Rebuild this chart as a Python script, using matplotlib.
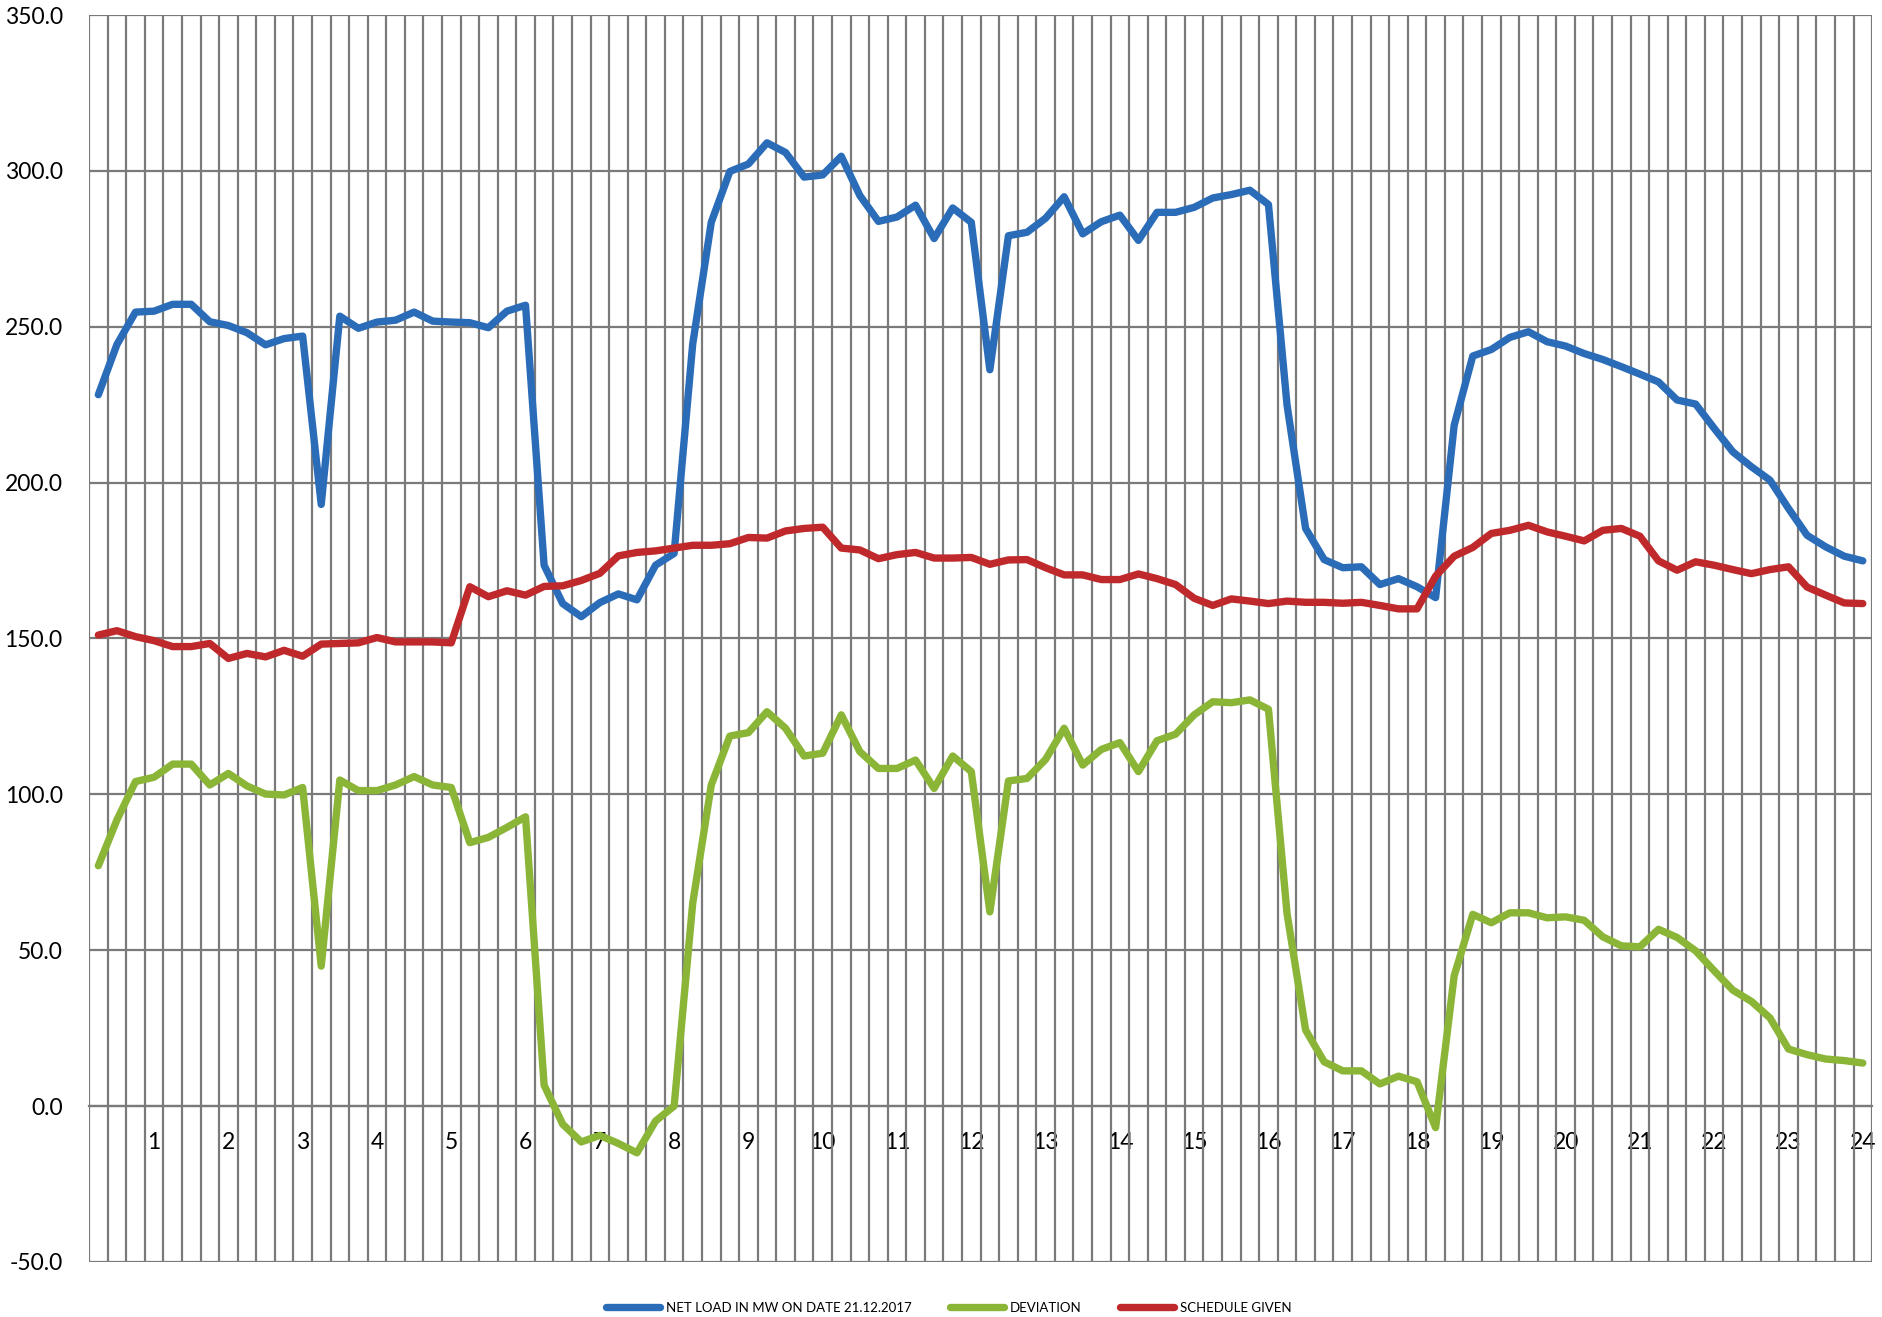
import numpy as np
import matplotlib.pyplot as plt
from matplotlib.ticker import FormatStrFormatter

# 15-minute blocks of one day (96 points), hour labels on every 4th block
hour_labels = [str(h) for h in range(1, 25)]

net_load = [
    228.2, 244.3, 254.7, 255.0, 257.2, 257.2, 251.6, 250.4, 248.1, 244.2, 246.2, 247.0,
    193.0, 253.4, 249.5, 251.5, 252.1, 254.7, 251.8, 251.5, 251.3, 249.7, 255.0, 256.9,
    173.5, 161.2, 157.0, 161.5, 164.3, 162.4, 173.5, 177.3, 244.4, 283.5, 299.8, 302.2,
    309.0, 305.9, 298.0, 298.7, 304.7, 292.1, 283.8, 285.2, 289.0, 278.3, 288.1, 283.5,
    236.2, 279.2, 280.3, 284.8, 291.7, 279.8, 283.7, 285.8, 277.7, 286.7, 286.7, 288.3,
    291.3, 292.4, 293.8, 289.2, 224.9, 185.3, 175.3, 172.7, 173.0, 167.3, 169.2, 166.6,
    163.1, 218.4, 240.6, 242.7, 246.6, 248.4, 245.2, 243.8, 241.4, 239.5, 237.2, 234.8,
    232.3, 226.5, 225.2, 217.4, 209.9, 205.1, 200.8, 191.7, 183.1, 179.4, 176.4, 174.9,
]

schedule = [
    151.1, 152.5, 150.6, 149.3, 147.4, 147.4, 148.4, 143.6, 145.2, 144.1, 146.2, 144.3,
    148.2, 148.4, 148.6, 150.3, 148.9, 148.9, 148.9, 148.6, 166.6, 163.4, 165.3, 163.9,
    166.7, 166.9, 168.6, 170.9, 176.5, 177.6, 178.1, 179.0, 179.9, 179.9, 180.4, 182.4,
    182.2, 184.5, 185.3, 185.7, 179.0, 178.4, 175.6, 176.9, 177.6, 175.8, 175.8, 176.0,
    173.8, 175.2, 175.3, 172.7, 170.4, 170.4, 168.9, 168.9, 170.7, 169.2, 167.3, 162.9,
    160.6, 162.7, 162.0, 161.2, 162.0, 161.6, 161.6, 161.3, 161.6, 160.6, 159.5, 159.5,
    170.0, 176.4, 179.2, 183.7, 184.7, 186.3, 184.2, 182.8, 181.3, 184.7, 185.3, 182.8,
    174.9, 171.9, 174.6, 173.5, 172.1, 170.8, 172.1, 173.0, 166.5, 163.9, 161.4, 161.2,
]

deviation = [
    77.1, 91.8, 104.1, 105.5, 109.7, 109.7, 103.0, 106.7, 102.7, 100.1, 99.8, 102.2,
    44.9, 104.6, 101.2, 101.2, 103.0, 105.7, 103.0, 102.2, 84.5, 86.2, 89.4, 92.8,
    6.7, -5.8, -11.5, -9.4, -12.0, -15.0, -4.8, 0.0, 65.0, 103.0, 118.7, 119.8,
    126.5, 121.2, 112.3, 113.2, 125.5, 113.7, 108.3, 108.3, 111.0, 101.9, 112.3, 107.3,
    62.3, 104.3, 105.1, 111.2, 121.2, 109.4, 114.4, 116.6, 107.3, 117.2, 119.3, 125.5,
    129.7, 129.4, 130.3, 127.3, 61.8, 24.4, 14.2, 11.3, 11.3, 7.1, 9.6, 7.8,
    -6.9, 41.8, 61.5, 58.8, 62.0, 62.0, 60.4, 60.7, 59.6, 54.3, 51.4, 51.1,
    56.7, 54.1, 49.8, 43.4, 37.2, 33.6, 28.3, 18.3, 16.5, 15.1, 14.6, 13.8,
]

plt.rcParams['font.family'] = ['Lato', 'DejaVu Sans']

x = np.arange(len(net_load))
grid_col = '#7a7a7a'
lw = 5.3

fig = plt.figure(figsize=(18.83, 13.17), dpi=100)
ax = fig.add_axes([0.0473, 0.0418, 0.9469, 0.9468])

ax.plot(x, net_load, color='#2B6CB9', lw=lw, solid_joinstyle='round',
        solid_capstyle='round', label='NET LOAD IN MW ON DATE 21.12.2017', zorder=3)
ax.plot(x, deviation, color='#8BB536', lw=lw, solid_joinstyle='round',
        solid_capstyle='round', label='DEVIATION', zorder=3)
ax.plot(x, schedule, color='#C0292B', lw=lw, solid_joinstyle='round',
        solid_capstyle='round', label='SCHEDULE GIVEN', zorder=3)

ax.set_xlim(-0.5, len(x) - 0.5)
ax.set_ylim(-50, 350)
ax.set_yticks(np.arange(-50, 351, 50))
ax.yaxis.set_major_formatter(FormatStrFormatter('%.1f'))

# hour labels on the last block of each hour
ax.set_xticks(np.arange(3, len(x), 4))
ax.set_xticklabels(hour_labels)
ax.set_xticks(np.arange(-0.5, len(x), 1), minor=True)

ax.set_axisbelow(True)
ax.grid(True, which='minor', axis='x', color=grid_col, lw=1.6)
ax.grid(True, which='major', axis='y', color=grid_col, lw=1.6)

for s in ['top', 'right', 'left']:
    ax.spines[s].set_visible(False)
ax.spines['bottom'].set_position(('data', 0))
ax.spines['bottom'].set_color(grid_col)
ax.spines['bottom'].set_linewidth(1.6)

ax.tick_params(axis='both', which='both', length=0, labelsize=16.5, colors='black')
ax.tick_params(axis='x', pad=19)
ax.tick_params(axis='y', pad=19)

fig.legend(loc='center', bbox_to_anchor=(0.504, 0.0068), ncol=3, frameon=False,
           fontsize=9.5, handlelength=4.1, handletextpad=0.45, columnspacing=2.9)

fig.savefig('out.png', dpi=100)
